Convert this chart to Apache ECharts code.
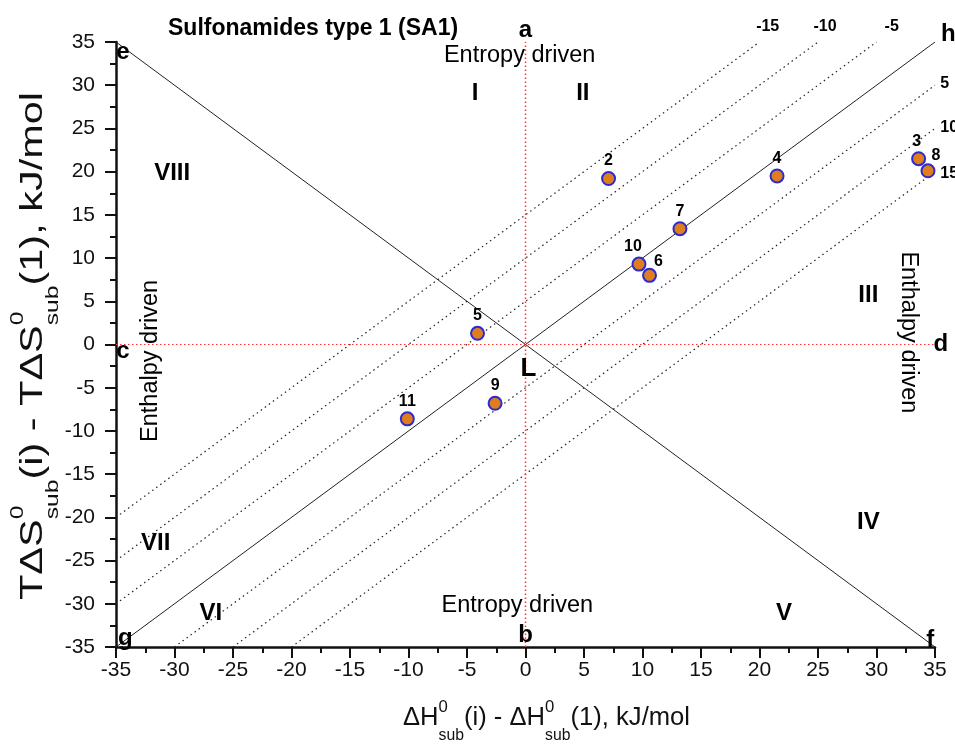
<!DOCTYPE html>
<html><head><meta charset="utf-8">
<script src="https://cdn.jsdelivr.net/npm/echarts@6/dist/echarts.min.js"></script>
<style>html,body{margin:0;padding:0;background:#fff}#c{width:955px;height:745px}</style>
</head><body><div id="c"></div>
<script>
// ---- data ----
const compounds = ['2','3','4','5','6','7','8','9','10','11'];
const dH  = [7.1, 33.6, 21.5, -4.1, 10.6, 13.2, 34.4, -2.6, 9.7, -10.1];
const TdS = [19.2, 21.5, 19.5, 1.3, 8.0, 13.4, 20.1, -6.8, 9.3, -8.6];
const axisMin = -35, axisMax = 35, axisStep = 5;
const diagonalMain = [[-35,-35],[35,35]];
const diagonalAnti = [[-35,35],[35,-35]];
const zeroVertical = [[0,-35],[0,35]];
const zeroHorizontal = [[-35,0],[35,0]];
const isoLabels = ['-15','-10','-5','5','10','15'];
const isoLines = [
  [[-35,-20],[20,35]],
  [[-35,-25],[25,35]],
  [[-35,-30],[30,35]],
  [[-30,-35],[35,30]],
  [[-25,-35],[35,25]],
  [[-20,-35],[35,20]]
];
const cornerLetters = ['a','b','c','d','e','f','g','h','L'];
const regionNames = ['I','II','III','IV','V','VI','VII','VIII'];

// ---- annotation placement (data coords) ----
const letterPos = [[0,36.3],[0,-33.6],[-34.4,-0.8],[35.5,0],[-34.4,33.8],[34.6,-34.2],[-34.2,-34.0],[36.15,35.9],[0.26,-2.8]];
const regionPos = [[-4.3,29.1],[4.9,29.1],[29.3,5.7],[29.3,-20.6],[22.1,-31.1],[-26.9,-31.1],[-31.6,-23.0],[-30.2,19.8]];
const isoLabelPos = [[20.7,36.8],[25.6,36.8],[31.3,36.8],[35.45,30.2],[35.45,25.1],[35.45,19.8]];
const pointLabelOffset = {'3':[-2,0],'8':[8,2],'6':[9,4],'10':[-6,0]};

const FONT = '"Liberation Sans", Arial, sans-serif';
const INK = '#000';

const annot = [];
cornerLetters.forEach((t,i)=>annot.push({pos:letterPos[i], text:t, size:t==='L'?26:24, bold:true}));
regionNames.forEach((t,i)=>annot.push({pos:regionPos[i], text:t, size:24, bold:true}));
isoLabels.forEach((t,i)=>annot.push({pos:isoLabelPos[i], text:t, size:16, bold:true, align:i>=3?'left':'center'}));
annot.push({pos:[-0.5,33.4], text:'Entropy driven', size:23.5});
annot.push({pos:[-0.7,-30.2], text:'Entropy driven', size:23.5});
annot.push({pos:[-32.05,-1.9], text:'Enthalpy driven', size:23.5, rot:Math.PI/2});
annot.push({pos:[32.7,1.4], text:'Enthalpy driven', size:23.5, rot:-Math.PI/2});

const points = compounds.map((c,i)=>({
  name:c, value:[dH[i], TdS[i]],
  label:{offset: pointLabelOffset[c] || [0,0]}
}));

// ---- axis titles with stacked sup/sub ----
const cv = document.createElement('canvas').getContext('2d');
function tw(t, size){ cv.font = size + 'px ' + FONT; return cv.measureText(t).width; }
function buildTitle(parts, fMain, fSup, fSub, supDy, subDy){
  let x = 0; const kids = [];
  const mk = (t, xx, yy, f) => ({type:'text', x:xx, y:yy, silent:true,
      style:{text:t, font: f + 'px ' + FONT, fill:'#111', align:'left', verticalAlign:'middle'}});
  parts.forEach(p=>{
    if (typeof p === 'string'){ kids.push(mk(p, x, 0, fMain)); x += tw(p, fMain); }
    else { kids.push(mk(p[0], x, supDy, fSup)); kids.push(mk(p[1], x, subDy, fSub)); x += Math.max(tw(p[0],fSup), tw(p[1],fSub)); }
  });
  kids.forEach(k=>k.x -= x/2);
  return {kids, width:x};
}
const xt = buildTitle(['\u0394H',['0','sub'],'(i) - \u0394H',['0','sub'],'(1), kJ/mol'], 26, 17, 16, -10, 18);
const yt = buildTitle(['T\u0394S',['0','sub'],'(i) - T\u0394S',['0','sub'],'(1), kJ/mol'], 32, 19, 19, -16, 19);

const axisCommon = {
  type:'value', min:axisMin, max:axisMax, interval:axisStep,
  axisLine:{show:true, onZero:false, lineStyle:{color:'#111', width:2.5}},
  axisTick:{show:true, inside:false, length:11, lineStyle:{color:'#111', width:2}},
  minorTick:{show:true, splitNumber:2, length:6, lineStyle:{color:'#111', width:2}},
  splitLine:{show:false}, minorSplitLine:{show:false},
  axisLabel:{color:'#111', fontSize:21, fontFamily:FONT}
};

const lineSeries = (data, style) => ({type:'line', data, symbol:'none', silent:true, animation:false, lineStyle:style, z:2});
const series = [];
isoLines.forEach(l=>series.push(lineSeries(l, {color:'#222', width:1.2, type:[1.5,3.5]})));
series.push(lineSeries(diagonalMain, {color:'#222', width:1}));
series.push(lineSeries(diagonalAnti, {color:'#222', width:1}));
series.push(lineSeries(zeroVertical, {color:'#ff3030', width:1.5, type:[1.5,2.5]}));
series.push(lineSeries(zeroHorizontal, {color:'#ff3030', width:1.2, type:[1.5,2.5]}));
series.push({
  type:'scatter', data:points, symbol:'circle', symbolSize:13, z:5, animation:false, clip:false,
  itemStyle:{color:'#E07D1C', borderColor:'#2B2BD0', borderWidth:2, opacity:1},
  label:{show:true, position:'top', distance:2, formatter:p=>p.name, color:'#000', fontSize:16, fontWeight:'bold', fontFamily:FONT},
  emphasis:{disabled:true}
});

const chart = echarts.init(document.getElementById('c'), null, {renderer:'canvas'});
chart.setOption({
  animation:false,
  backgroundColor:'#fff',
  title:{text:'Sulfonamides type 1 (SA1)', left:163, top:12, textStyle:{fontSize:23, fontWeight:'bold', color:'#000', fontFamily:FONT}},
  grid:{left:116, right:20, top:42, bottom:98, containLabel:false},
  xAxis:Object.assign({}, axisCommon, {axisLabel:Object.assign({}, axisCommon.axisLabel, {margin:13})}),
  yAxis:Object.assign({}, axisCommon, {axisLabel:Object.assign({}, axisCommon.axisLabel, {margin:21})}),
  series
});

// annotations placed through the chart's own coordinate conversion
const annotGraphics = annot.map(a=>{
  const p = chart.convertToPixel({gridIndex:0}, a.pos);
  return {type:'text', x:p[0], y:p[1], rotation:a.rot||0, silent:true, z:10,
    style:{text:a.text, font:(a.bold?'bold ':'') + a.size + 'px ' + FONT, fill:INK,
           align:a.align||'center', verticalAlign:'middle'}};
});
chart.setOption({
  graphic:[
    {type:'group', x:546.5, y:717.5, scaleX:287/xt.width, children:xt.kids},
    {type:'group', x:33.5, y:346, rotation:Math.PI/2, scaleX:508/yt.width, children:yt.kids}
  ].concat(annotGraphics)
});
</script></body></html>
